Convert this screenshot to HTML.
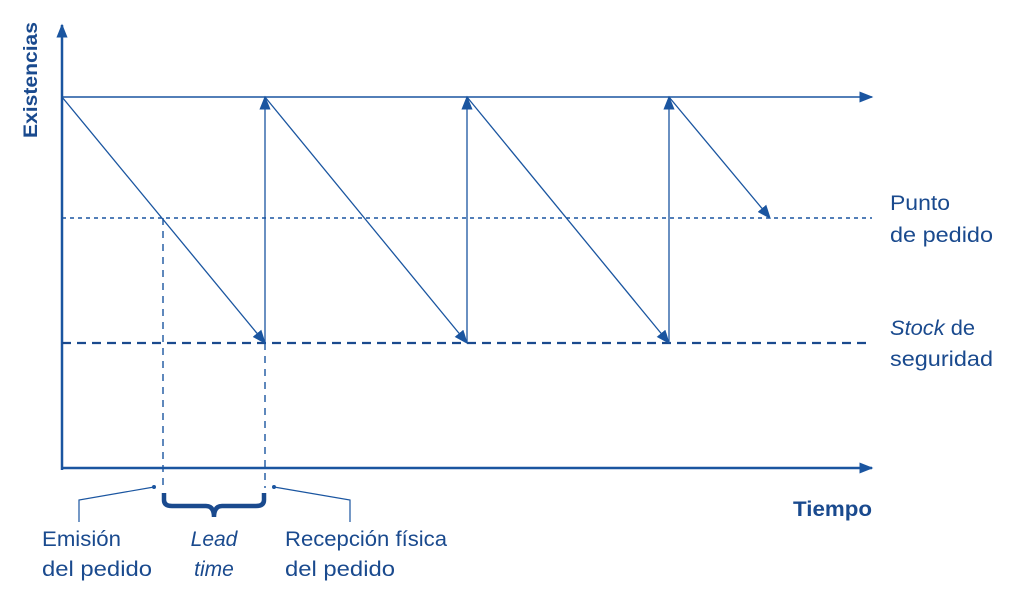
<!DOCTYPE html>
<html><head><meta charset="utf-8"><style>
html,body{margin:0;padding:0;background:#fff;}
svg{display:block;}
text{font-family:"Liberation Sans",sans-serif;fill:#1a4a8e;}
</style></head><body>
<svg width="1024" height="608" viewBox="0 0 1024 608" xmlns="http://www.w3.org/2000/svg">
<defs>
<marker id="b" viewBox="0 0 10 10" refX="9" refY="5" markerWidth="14" markerHeight="14" markerUnits="userSpaceOnUse" orient="auto"><path d="M0,1 L10,5 L0,9 z" fill="#1a55a0"/></marker>
</defs>
<g stroke="#1a55a0" fill="none">
<line x1="62" y1="470" x2="62" y2="25" stroke-width="2.5" marker-end="url(#b)"/>
<line x1="61" y1="468" x2="872" y2="468" stroke-width="2.5" marker-end="url(#b)"/>
<line x1="62" y1="97" x2="872" y2="97" stroke-width="1.5" marker-end="url(#b)"/>
<line x1="62" y1="218" x2="872" y2="218" stroke-width="1.4" stroke-dasharray="4,4"/>
<line x1="62" y1="343" x2="872" y2="343" stroke-width="2.2" stroke-dasharray="9,6" stroke="#1a4a8e"/>
<line x1="163" y1="218" x2="163" y2="488" stroke-width="1.4" stroke-dasharray="7,6"/>
<line x1="265" y1="343" x2="265" y2="488" stroke-width="1.4" stroke-dasharray="7,6"/>
<line x1="62" y1="97" x2="265" y2="343" stroke-width="1.3" marker-end="url(#b)"/>
<line x1="265" y1="97" x2="467" y2="343" stroke-width="1.3" marker-end="url(#b)"/>
<line x1="467" y1="97" x2="669" y2="343" stroke-width="1.3" marker-end="url(#b)"/>
<line x1="669" y1="97" x2="770" y2="218" stroke-width="1.3" marker-end="url(#b)"/>
<line x1="265" y1="343" x2="265" y2="97" stroke-width="1.3" marker-end="url(#b)"/>
<line x1="467" y1="343" x2="467" y2="97" stroke-width="1.3" marker-end="url(#b)"/>
<line x1="669" y1="343" x2="669" y2="97" stroke-width="1.3" marker-end="url(#b)"/>
<polyline points="154,487 79,500 79,522" stroke-width="1.2"/>
<polyline points="274,487 350,500 350,522" stroke-width="1.2"/>
<path d="M164,493 L164,500 Q164,506 172,506 L206,506 Q214,506 214,517 Q214,506 222,506 L256,506 Q264,506 264,500 L264,493" stroke="#1a4a8e" stroke-width="4.5"/>
</g>
<circle cx="154" cy="487" r="2" fill="#1a55a0"/>
<circle cx="274" cy="487" r="2" fill="#1a55a0"/>
<text transform="translate(37,80) rotate(-90)" text-anchor="middle" font-size="19" font-weight="bold" textLength="116" lengthAdjust="spacingAndGlyphs">Existencias</text>
<text x="793" y="516" font-size="21" font-weight="bold" textLength="79" lengthAdjust="spacingAndGlyphs">Tiempo</text>
<text x="890" y="210" font-size="21" textLength="60" lengthAdjust="spacingAndGlyphs">Punto</text>
<text x="890" y="242" font-size="21" textLength="103" lengthAdjust="spacingAndGlyphs">de pedido</text>
<text x="890" y="335" font-size="21" textLength="85" lengthAdjust="spacingAndGlyphs"><tspan font-style="italic">Stock</tspan> de</text>
<text x="890" y="366" font-size="21" textLength="103" lengthAdjust="spacingAndGlyphs">seguridad</text>
<text x="42" y="546" font-size="21" textLength="79" lengthAdjust="spacingAndGlyphs">Emisión</text>
<text x="42" y="576" font-size="21" textLength="110" lengthAdjust="spacingAndGlyphs">del pedido</text>
<text x="214" y="546" font-size="21" font-style="italic" text-anchor="middle">Lead</text>
<text x="214" y="576" font-size="21" font-style="italic" text-anchor="middle">time</text>
<text x="285" y="546" font-size="21" textLength="162" lengthAdjust="spacingAndGlyphs">Recepción física</text>
<text x="285" y="576" font-size="21" textLength="110" lengthAdjust="spacingAndGlyphs">del pedido</text>
</svg>
</body></html>
